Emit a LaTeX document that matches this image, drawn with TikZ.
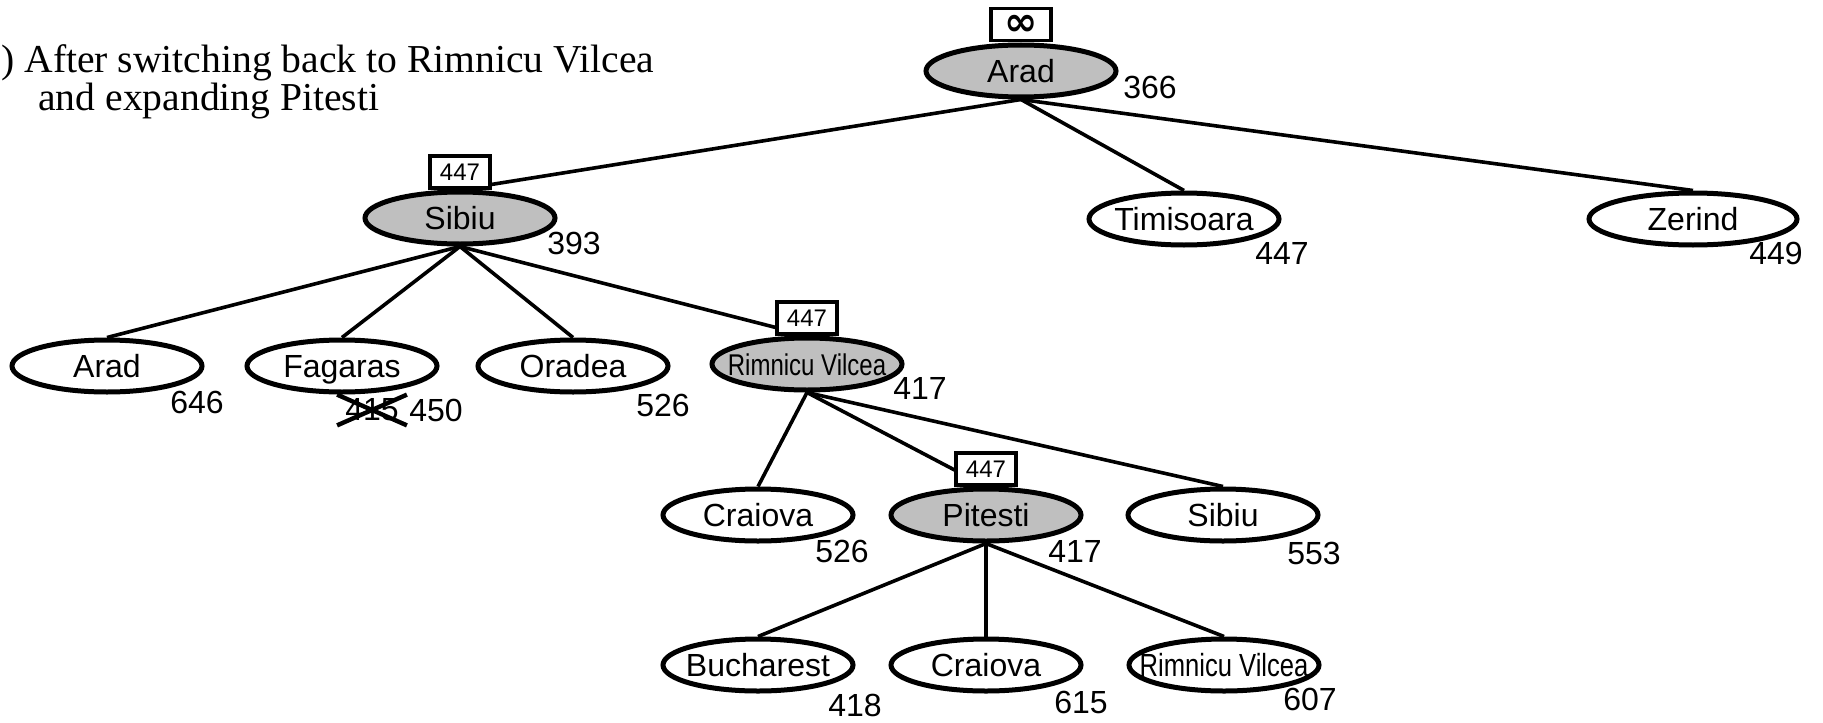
\documentclass[tikz,border=0pt]{standalone}
\usepackage{fontspec}
\setmainfont{Liberation Sans}
\newfontfamily\titlefont{Liberation Serif}
\newfontfamily\symfont{DejaVu Sans}
\usepackage{graphicx}
\usetikzlibrary{shapes, shapes.misc}

\begin{document}
\begin{tikzpicture}[x=0.5pt, y=-0.5pt,
    city/.style={draw, ellipse, line width=2.5pt, minimum width=95pt, minimum height=26pt,
        inner xsep=-12pt, inner ysep=0pt, text height=11.5pt, text depth=0pt,
        font=\fontsize{16}{16}\selectfont},
    open/.style={city, fill=white},
    done/.style={city, fill=gray!50},
    fval/.style={inner sep=0pt, font=\fontsize{16}{16}\selectfont},
    bound/.style={draw, line width=1.6pt, fill=white, minimum width=30pt, minimum height=16pt,
        inner sep=0pt, anchor=south, font=\fontsize{12}{12}\selectfont},
    link/.style={line width=1.8pt}]
            \useasboundingbox[fill=white] (0,0) rectangle (1823,722);

            \node[anchor=west, inner sep=0pt, font=\titlefont\fontsize{19.8}{19.8}\selectfont] (t1) at (1, 63) {) After switching back to Rimnicu Vilcea};
            \node[anchor=west, inner sep=0pt, font=\titlefont\fontsize{19.8}{19.8}\selectfont] (t2) at (38, 101) {and expanding Pitesti};

            % search tree
            \node[done] (n0) at (1021, 71) {Arad};
            \node[done] (n1) at (460, 218) {Sibiu};
            \node[open] (n2) at (1184, 219) {Timisoara};
            \node[open, minimum width=104pt] (n3) at (1693, 219) {Zerind};
            \node[open] (n4) at (107, 366) {Arad};
            \node[open] (n5) at (342, 366) {Fagaras};
            \node[open] (n6) at (573, 366) {Oradea};
            \node[done] (n7) at (807, 364) {\scalebox{0.8}[1]{\fontsize{15}{15}\selectfont Rimnicu Vilcea}};
            \node[open] (n8) at (758, 515) {Craiova};
            \node[done] (n9) at (986, 515) {Pitesti};
            \node[open] (n10) at (1223, 515) {Sibiu};
            \node[open] (n11) at (758, 665) {Bucharest};
            \node[open] (n12) at (986, 665) {Craiova};
            \node[open] (n13) at (1224, 665) {\scalebox{0.8}[1]{Rimnicu Vilcea}};

            \draw[link] (n0.south) -- (n1.north);
            \draw[link] (n0.south) -- (n2.north);
            \draw[link] (n0.south) -- (n3.north);
            \draw[link] (n1.south) -- (n4.north);
            \draw[link] (n1.south) -- (n5.north);
            \draw[link] (n1.south) -- (n6.north);
            \draw[link] (n1.south) -- (n7.north);
            \draw[link] (n7.south) -- (n8.north);
            \draw[link] (n7.south) -- (n9.north);
            \draw[link] (n7.south) -- (n10.north);
            \draw[link] (n9.south) -- (n11.north);
            \draw[link] (n9.south) -- (n12.north);
            \draw[link] (n9.south) -- (n13.north);

            % f-limits
            \node[bound, font=\symfont\bfseries\fontsize{20}{20}\selectfont] (b0) at (n0.north) {∞};
            \node[bound] (b1) at (n1.north) {447};
            \node[bound] (b7) at (n7.north) {447};
            \node[bound] (b9) at (n9.north) {447};

            % f-values
            \node[fval] (f0) at (1150, 87) {366};
            \node[fval] (f1) at (574, 243) {393};
            \node[fval] (f2) at (1282, 253) {447};
            \node[fval] (f3) at (1776, 253) {449};
            \node[fval] (f4) at (197, 402) {646};
            \node[fval, cross out, draw, line width=2.2pt, inner xsep=3pt, inner ysep=1pt] (f5old) at (372, 410) {415};
            \node[fval] (f5) at (436, 410) {450};
            \node[fval] (f6) at (663, 405) {526};
            \node[fval] (f7) at (920, 388) {417};
            \node[fval] (f8) at (842, 551) {526};
            \node[fval] (f9) at (1075, 551) {417};
            \node[fval] (f10) at (1314, 553) {553};
            \node[fval] (f11) at (855, 705) {418};
            \node[fval] (f12) at (1081, 702) {615};
            \node[fval] (f13) at (1310, 699) {607};
    	\end{tikzpicture}
\end{document}
